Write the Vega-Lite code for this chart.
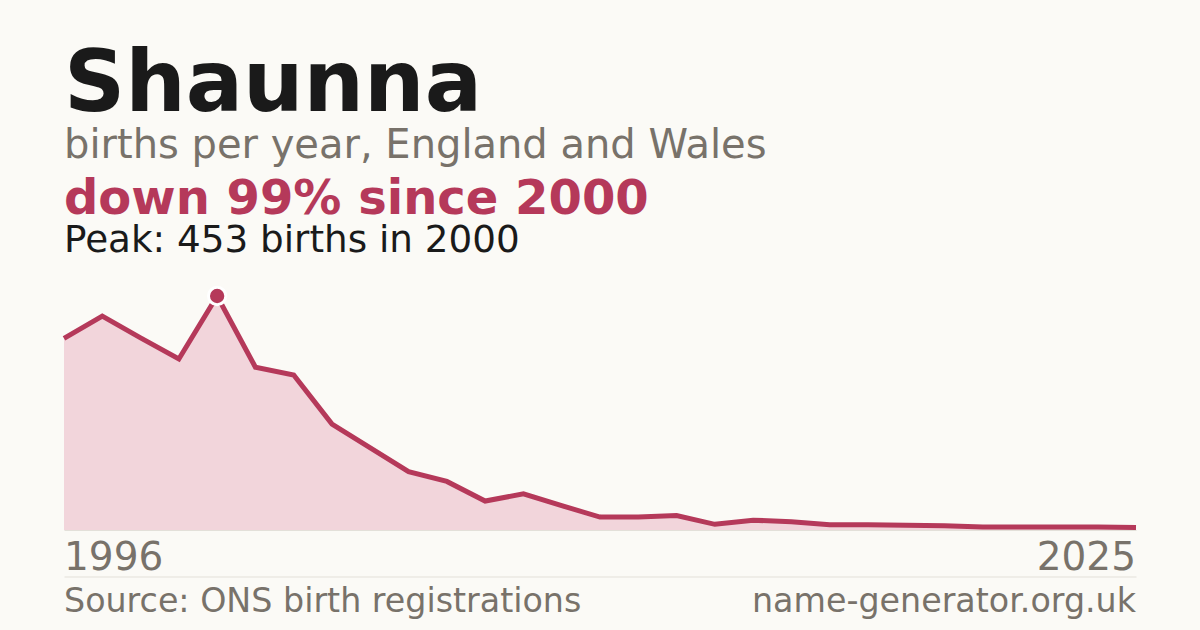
{
  "$schema": "https://vega.github.io/schema/vega-lite/v6.json",
  "background": "#fbfaf6",
  "padding": {"left": 54, "right": 54, "top": 43, "bottom": 7},
  "spacing": 0,
  "config": {
    "view": {"stroke": null},
    "font": "DejaVu Sans"
  },
  "title": {
    "text": "Shaunna",
    "subtitle": "births per year, England and Wales",
    "anchor": "start",
    "frame": "group",
    "font": "DejaVu Sans",
    "fontSize": 85,
    "fontWeight": "bold",
    "color": "#1a1a1a",
    "subtitleFont": "DejaVu Sans",
    "subtitleFontSize": 40,
    "subtitleColor": "#78726a",
    "subtitlePadding": -3,
    "offset": 9
  },
  "vconcat": [
    {
      "width": 1072,
      "height": 234,
      "title": {
        "text": "down 99% since 2000",
        "subtitle": "Peak: 453 births in 2000",
        "anchor": "start",
        "frame": "group",
        "font": "DejaVu Sans",
        "fontSize": 48,
        "fontWeight": "bold",
        "color": "#b5395a",
        "subtitleFont": "DejaVu Sans",
        "subtitleFontSize": 37.3,
        "subtitleColor": "#1a1a1a",
        "subtitlePadding": -1,
        "offset": 22
      },
      "data": {
        "values": [
          {"year": 1996, "births": 371},
          {"year": 1997, "births": 414},
          {"year": 1998, "births": 372},
          {"year": 1999, "births": 331},
          {"year": 2000, "births": 453},
          {"year": 2001, "births": 315},
          {"year": 2002, "births": 300},
          {"year": 2003, "births": 205},
          {"year": 2004, "births": 159},
          {"year": 2005, "births": 113},
          {"year": 2006, "births": 94},
          {"year": 2007, "births": 56},
          {"year": 2008, "births": 70},
          {"year": 2009, "births": 47},
          {"year": 2010, "births": 25},
          {"year": 2011, "births": 25},
          {"year": 2012, "births": 28},
          {"year": 2013, "births": 11},
          {"year": 2014, "births": 19},
          {"year": 2015, "births": 16},
          {"year": 2016, "births": 10},
          {"year": 2017, "births": 10},
          {"year": 2018, "births": 9},
          {"year": 2019, "births": 8},
          {"year": 2020, "births": 6},
          {"year": 2021, "births": 6},
          {"year": 2022, "births": 6},
          {"year": 2023, "births": 6},
          {"year": 2024, "births": 5}
        ]
      },
      "encoding": {
        "x": {
          "field": "year",
          "type": "quantitative",
          "scale": {"domain": [1996, 2024], "nice": false, "zero": false},
          "axis": {"domain": true, "domainColor": "#e3e0d9", "ticks": false, "labels": false, "grid": false, "title": null, "zindex": 1}
        },
        "y": {
          "field": "births",
          "type": "quantitative",
          "scale": {"domain": [0, 453], "nice": false},
          "axis": null
        }
      },
      "layer": [
        {"mark": {"type": "area", "color": "#f2d5db"}},
        {"mark": {"type": "line", "color": "#b5395a", "strokeWidth": 5}},
        {
          "transform": [{"filter": "datum.year == 2000"}],
          "mark": {"type": "point", "filled": true, "size": 300, "fill": "#b5395a", "stroke": "#ffffff", "strokeWidth": 3, "opacity": 1}
        }
      ]
    },
    {
      "width": 1072,
      "height": 37.5,
      "data": {"values": [{"label": "1996", "side": "left"}, {"label": "2025", "side": "right"}]},
      "encoding": {
        "x": {
          "field": "side",
          "type": "nominal",
          "scale": {"type": "point", "padding": 0, "domain": ["left", "right"]},
          "axis": {"orient": "bottom", "domainColor": "#e3e0d9", "ticks": false, "labels": false, "title": null, "grid": false}
        },
        "text": {"field": "label"}
      },
      "layer": [
        {"transform": [{"filter": "datum.side == 'left'"}], "mark": {"type": "text", "align": "left", "fontSize": 39, "color": "#78726a"}},
        {"transform": [{"filter": "datum.side == 'right'"}], "mark": {"type": "text", "align": "right", "fontSize": 39, "color": "#78726a"}}
      ]
    },
    {
      "width": 1072,
      "height": 48,
      "data": {"values": [{"label": "Source: ONS birth registrations", "side": "left"}, {"label": "name-generator.org.uk", "side": "right"}]},
      "encoding": {
        "x": {
          "field": "side",
          "type": "nominal",
          "scale": {"type": "point", "padding": 0, "domain": ["left", "right"]},
          "axis": null
        },
        "text": {"field": "label"}
      },
      "layer": [
        {"transform": [{"filter": "datum.side == 'left'"}], "mark": {"type": "text", "align": "left", "fontSize": 33.3, "color": "#78726a"}},
        {"transform": [{"filter": "datum.side == 'right'"}], "mark": {"type": "text", "align": "right", "fontSize": 33.3, "color": "#78726a"}}
      ]
    }
  ]
}
